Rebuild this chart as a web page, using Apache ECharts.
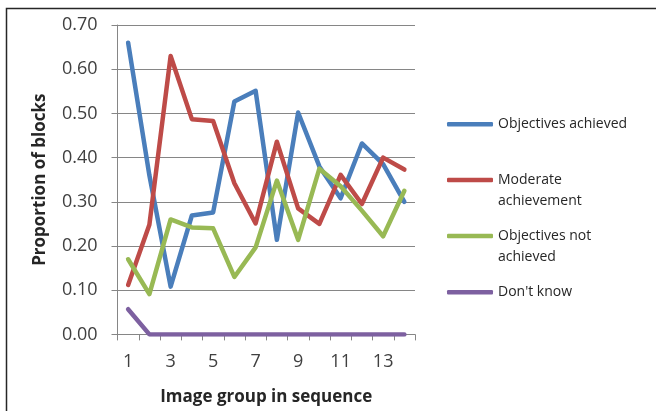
<!DOCTYPE html>
<html>
<head>
<meta charset="utf-8">
<script src="https://cdn.jsdelivr.net/npm/echarts@6/dist/echarts.min.js"></script>
<style>
  html, body { margin: 0; padding: 0; background: #fff; }
  #chart { width: 656px; height: 411px; }
</style>
</head>
<body>
<div id="chart"></div>
<script>
// Image groups shown in sequence (x axis)
const groups = ['1','2','3','4','5','6','7','8','9','10','11','12','13','14'];

// Proportion of blocks for each outcome
const achieved    = [0.66, 0.36, 0.108, 0.269, 0.276, 0.527, 0.551, 0.214, 0.502, 0.38, 0.308, 0.432, 0.385, 0.30];
const moderate    = [0.112, 0.248, 0.63, 0.487, 0.483, 0.342, 0.251, 0.436, 0.285, 0.25, 0.361, 0.295, 0.400, 0.373];
const notAchieved = [0.17, 0.091, 0.26, 0.242, 0.24, 0.13, 0.197, 0.348, 0.214, 0.375, 0.335, 0.28, 0.222, 0.325];
const dontKnow    = [0.057, 0, 0, 0, 0, 0, 0, 0, 0, 0, 0, 0, 0, 0];

const seriesNames = ['Objectives achieved', 'Moderate\nachievement', 'Objectives not\nachieved', "Don't know"];
const seriesColors = ['#4A7EBB', '#BE4B48', '#98B954', '#7D60A0'];
const seriesData = [achieved, moderate, notAchieved, dontKnow];

const FONT = '"Open Sans", "Liberation Sans", sans-serif';
const LINE_H = 21;
// icon centre of each legend entry
const legendIconY = [124.3, 180, 236, 292.3];

const chart = echarts.init(document.getElementById('chart'), null, { renderer: 'canvas' });

// Two-line entries get an empty leading line so the icon sits beside the first line.
const legends = seriesNames.map((name, i) => {
  const multi = name.indexOf('\n') >= 0;
  const blockH = multi ? LINE_H * 3 : LINE_H;
  return {
    orient: 'vertical',
    left: 447,
    top: legendIconY[i] - blockH / 2,
    padding: 0,
    itemWidth: 46,
    itemHeight: 4.5,
    itemGap: 0,
    icon: 'roundRect',
    data: [name],
    formatter: n => (multi ? '\n' + n : n),
    textStyle: {
      fontFamily: FONT,
      fontSize: 14,
      color: '#262626',
      lineHeight: LINE_H
    },
    selectedMode: false
  };
});

chart.setOption({
  backgroundColor: '#ffffff',
  animation: false,
  grid: { left: 117.5, right: 241, top: 25, bottom: 76.6, containLabel: false },
  graphic: [{
    type: 'rect',
    shape: { x: 6.5, y: 8.5, width: 700, height: 450 },
    style: { fill: 'none', stroke: '#262626', lineWidth: 1.5 },
    silent: true
  }],
  legend: legends,
  xAxis: {
    type: 'category',
    data: groups,
    boundaryGap: true,
    name: 'Image group in sequence',
    nameLocation: 'middle',
    nameGap: 54,
    nameTextStyle: { fontFamily: FONT, fontSize: 17, fontWeight: 'bold', color: '#262626' },
    axisLine: { lineStyle: { color: '#868686', width: 1 } },
    axisTick: { show: true, interval: 0, length: 6, lineStyle: { color: '#868686' } },
    axisLabel: { interval: 1, margin: 18, fontFamily: FONT, fontSize: 18, color: '#404040' },
    splitLine: { show: false }
  },
  yAxis: {
    type: 'value',
    min: 0,
    max: 0.7,
    interval: 0.1,
    name: 'Proportion of blocks',
    nameLocation: 'middle',
    nameGap: 69,
    nameTextStyle: { fontFamily: FONT, fontSize: 17, fontWeight: 'bold', color: '#262626' },
    axisLine: { show: true, lineStyle: { color: '#868686', width: 1 } },
    axisTick: { show: true, length: 6, lineStyle: { color: '#868686' } },
    axisLabel: {
      margin: 20,
      fontFamily: FONT,
      fontSize: 18,
      color: '#404040',
      formatter: v => v.toFixed(2)
    },
    splitLine: { show: true, lineStyle: { color: '#868686', width: 1 } }
  },
  series: seriesData.map((d, i) => ({
    name: seriesNames[i],
    type: 'line',
    data: d,
    symbol: 'none',
    color: seriesColors[i],
    lineStyle: { width: 4.5, color: seriesColors[i], cap: 'round', join: 'round' },
    z: 2 + i
  }))
});
</script>
</body>
</html>
